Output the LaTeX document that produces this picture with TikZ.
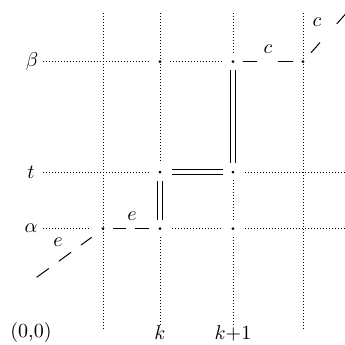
\documentclass[tikz,border=0pt]{standalone}
\begin{document}
\begin{tikzpicture}[x=0.5pt,y=-0.5pt,
  grid/.style={line width=0.4pt, dash pattern=on 0.4pt off 1.1pt},
  pt/.style={circle, fill, inner sep=0pt, minimum size=1.5pt},
  dbl/.style={double, double distance=2pt, line width=0.4pt},
  dsh/.style={line width=0.5pt},
  lab/.style={inner sep=0pt}]
\useasboundingbox (0,0) rectangle (345,345);
% points
\node[pt] (b1) at (160,61.5) {};
\node[pt] (b2) at (233,61.5) {};
\node[pt] (b3) at (303,61.5) {};
\node[pt] (t1) at (160,172) {};
\node[pt] (t2) at (233,172) {};
\node[pt] (a0) at (103,228.5) {};
\node[pt] (a1) at (160,228.5) {};
\node[pt] (a2) at (233,228.5) {};
% axis labels
\node[lab] (lb) at (32,61.5) {$\beta$};
\node[lab] (lt) at (31,172) {$t$};
\node[lab] (la) at (31,228.5) {$\alpha$};
\node[lab] (l00) at (31,332) {(0,0)};
\node[lab] (lk) at (160,333) {$k$};
\node[lab] (lk1) at (233,333) {$k{+}1$};
% horizontal grid lines
\draw[grid] (43,61.5) -- (150,61.5);
\draw[grid] (170,61.5) -- (223,61.5);
\draw[grid] (43,172) -- (150,172);
\draw[grid] (245,172) -- (345,172);
\draw[grid] (43,228.5) -- (91,228.5);
\draw[grid] (172,228.5) -- (223,228.5);
\draw[grid] (245,228.5) -- (345,228.5);
% vertical grid lines
\draw[grid] (103,13) -- (103,330);
\draw[grid] (160,13) -- (160,163);
\draw[grid] (160,237) -- (160,325);
\draw[grid] (233,13) -- (233,53);
\draw[grid] (233,180) -- (233,220);
\draw[grid] (233,237) -- (233,325);
\draw[grid] (303,13) -- (303,330);
% double lines (path)
\draw[dbl] (160,181) -- (160,220);
\draw[dbl] (172,172) -- (223,172);
\draw[dbl] (233,70) -- (233,163);
% dashed segments with labels
\draw[dsh] (113,228.5) -- (126,228.5);
\draw[dsh] (135,228.5) -- (149,228.5);
\node[lab] (le1) at (132,216) {$e$};
\draw[dsh] (243,61.5) -- (257,61.5);
\draw[dsh] (278,61.5) -- (293,61.5);
\node[lab] (lc1) at (268,49) {$c$};
% diagonals
\draw[dsh, dash pattern=on 7.5pt off 6.2pt] (36.7,277.3) -- (91.7,237.3);
\node[lab] (le2) at (58,242) {$e$};
\draw[dsh, dash pattern=on 6.8pt off 12.5pt] (311,52.7) -- (346,13.5);
\node[lab] (lc2) at (317,22) {$c$};
\end{tikzpicture}
\end{document}
